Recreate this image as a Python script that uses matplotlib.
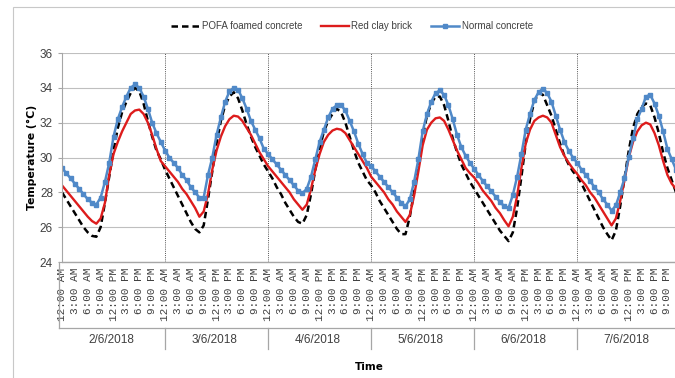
import matplotlib
matplotlib.use('Agg')
import matplotlib.pyplot as plt
from matplotlib.lines import Line2D
from matplotlib.patches import Rectangle

# ---------------- data (hourly readings, one row per day) ----------------
dates = ['2/6/2018', '3/6/2018', '4/6/2018', '5/6/2018', '6/6/2018', '7/6/2018']
hour_labels = ['12:00 AM', '3:00 AM', '6:00 AM', '9:00 AM',
               '12:00 PM', '3:00 PM', '6:00 PM', '9:00 PM']

pofa = [
    [28.0, 27.6, 27.2, 26.8, 26.4, 26.0, 25.7, 25.5, 25.45, 26.0, 27.4, 28.9,
     30.4, 31.7, 32.6, 33.2, 33.7, 34.0, 33.8, 33.1, 32.1, 31.2, 30.4, 29.9],
    [29.3, 28.8, 28.3, 27.8, 27.3, 26.8, 26.3, 25.9, 25.7, 26.1, 27.6, 29.2,
     30.8, 32.1, 33.0, 33.5, 33.75, 33.4, 32.7, 31.9, 31.2, 30.6, 30.1, 29.6],
    [29.2, 28.8, 28.3, 27.9, 27.4, 27.0, 26.6, 26.3, 26.2, 26.7, 27.9, 29.3,
     30.5, 31.5, 32.1, 32.5, 32.8, 32.6, 32.0, 31.2, 30.4, 29.7, 29.2, 28.7],
    [28.4, 28.0, 27.5, 27.1, 26.7, 26.3, 25.9, 25.6, 25.6, 26.6, 28.0, 29.6,
     31.2, 32.4, 33.1, 33.5, 33.5, 33.0, 32.1, 31.1, 30.3, 29.6, 29.1, 28.6],
    [28.2, 27.8, 27.4, 27.0, 26.6, 26.2, 25.8, 25.5, 25.2, 25.7, 27.1, 28.9,
     30.8, 32.2, 33.2, 33.7, 33.6, 33.0, 32.4, 31.6, 30.8, 30.1, 29.6, 29.2],
    [28.9, 28.5, 28.0, 27.5, 27.0, 26.5, 26.0, 25.6, 25.25, 25.8, 27.2, 28.8,
     30.4, 31.7, 32.5, 32.9, 33.1, 33.0, 32.3, 31.4, 30.3, 29.4, 28.7, 28.0],
]

brick = [
    [28.4, 28.1, 27.8, 27.5, 27.2, 26.9, 26.6, 26.35, 26.2, 26.5, 27.4, 29.0,
     30.2, 30.9, 31.5, 32.0, 32.5, 32.7, 32.75, 32.5, 32.0, 31.3, 30.5, 29.8],
    [29.5, 29.2, 28.9, 28.6, 28.2, 27.9, 27.5, 27.1, 26.6, 26.9, 27.9, 29.3,
     30.4, 31.2, 31.8, 32.2, 32.4, 32.35, 32.1, 31.7, 31.3, 30.8, 30.3, 29.9],
    [29.5, 29.2, 28.9, 28.6, 28.3, 28.0, 27.6, 27.3, 27.0, 27.3, 28.2, 29.3,
     30.2, 30.9, 31.3, 31.55, 31.65, 31.6, 31.4, 31.0, 30.6, 30.2, 29.8, 29.4],
    [28.9, 28.6, 28.3, 28.0, 27.6, 27.3, 26.9, 26.6, 26.3, 26.7, 27.8, 29.2,
     30.7, 31.6, 32.0, 32.25, 32.3, 32.1, 31.6, 31.0, 30.4, 29.9, 29.4, 29.1],
    [28.85, 28.5, 28.1, 27.8, 27.5, 27.1, 26.8, 26.4, 26.05, 26.6, 27.8, 29.4,
     30.8, 31.6, 32.1, 32.3, 32.4, 32.3, 32.0, 31.3, 30.6, 30.1, 29.7, 29.35],
    [29.05, 28.7, 28.4, 28.0, 27.7, 27.3, 26.9, 26.5, 26.1, 26.5, 27.5, 28.7,
     30.0, 30.9, 31.5, 31.85, 32.0, 31.9, 31.4, 30.7, 29.8, 29.0, 28.5, 28.2],
]

normal = [
    [29.4, 29.1, 28.8, 28.5, 28.2, 27.9, 27.6, 27.4, 27.3, 27.7, 28.6, 29.7,
     31.2, 32.2, 32.9, 33.5, 34.0, 34.2, 34.0, 33.5, 32.8, 32.0, 31.4, 30.9],
    [30.4, 30.0, 29.7, 29.4, 29.0, 28.7, 28.3, 28.0, 27.7, 27.7, 29.0, 30.0,
     31.3, 32.3, 33.2, 33.8, 34.0, 33.9, 33.4, 32.8, 32.1, 31.6, 31.1, 30.5],
    [30.2, 29.9, 29.6, 29.3, 29.0, 28.7, 28.4, 28.1, 27.95, 28.2, 28.9, 29.9,
     30.9, 31.6, 32.3, 32.8, 33.0, 33.0, 32.7, 32.1, 31.5, 30.8, 30.2, 29.7],
    [29.5, 29.2, 28.9, 28.6, 28.3, 28.0, 27.7, 27.4, 27.2, 27.6, 28.6, 29.9,
     31.5, 32.5, 33.2, 33.7, 33.85, 33.6, 33.0, 32.2, 31.3, 30.6, 30.1, 29.7],
    [29.35, 29.0, 28.65, 28.35, 28.05, 27.75, 27.45, 27.2, 27.1, 27.85, 28.9, 30.2,
     31.6, 32.5, 33.3, 33.75, 33.95, 33.7, 33.2, 32.4, 31.6, 30.9, 30.4, 30.0],
    [29.7, 29.3, 29.0, 28.65, 28.3, 28.0, 27.6, 27.3, 26.95, 27.25, 28.0, 28.8,
     30.05, 31.1, 32.2, 32.8, 33.5, 33.6, 33.1, 32.4, 31.5, 30.5, 29.9, 29.3],
]

# ---------------- styling ----------------
plt.rcParams['font.family'] = ['Liberation Sans', 'DejaVu Sans']
BLUE = '#5089C8'
RED = '#DD1C1C'
GRID = '#BFBFBF'
AXIS = '#A6A6A6'
TXT = '#404040'

pofa_all = [v for day in pofa for v in day]
brick_all = [v for day in brick for v in day]
normal_all = [v for day in normal for v in day]
x = list(range(len(normal_all)))
per_day = len(normal[0])

fig = plt.figure(figsize=(6.75, 3.78), dpi=100)

# outer chart border
fig.add_artist(Rectangle((13 / 675, -0.02), 1.2, 1 - 7 / 378 + 0.02,
                         transform=fig.transFigure, fill=False,
                         ec='#C8C8C8', lw=0.8))

ax = fig.add_axes([62 / 675, 1 - 262 / 378, 614 / 675, 209 / 378])

ax.plot(x, pofa_all, color='black', lw=1.8, ls=(0, (2.6, 1.6)),
        label='POFA foamed concrete')
ax.plot(x, brick_all, color=RED, lw=1.7, label='Red clay brick')
ax.plot(x, normal_all, color=BLUE, lw=1.8, marker='s', ms=3.0,
        label='Normal concrete')

ax.set_xlim(0, len(x) - 1)
ax.set_ylim(24, 36)
ax.set_yticks(range(24, 37, 2))
ax.yaxis.grid(True, color=GRID, lw=0.8)
ax.set_axisbelow(True)

# dotted day separators
for d in range(1, len(dates)):
    ax.axvline(d * per_day, color='#555555', lw=0.7, ls=(0, (1, 1.2)), zorder=1)

for s in ['top', 'right']:
    ax.spines[s].set_visible(False)
ax.spines['left'].set_color(AXIS)
ax.spines['bottom'].set_color(AXIS)
ax.spines['bottom'].set_linewidth(1.0)

ax.tick_params(axis='y', colors=AXIS, labelcolor=TXT, labelsize=8.5, length=3)
ax.set_xticks(x[::3])
ax.set_xticklabels(hour_labels * len(dates), rotation=90,
                   family='Liberation Mono', fontsize=7.9, color=TXT)
ax.tick_params(axis='x', length=0, pad=4)

ax.set_ylabel('Temperature (°C)', fontsize=7.8, fontweight='bold',
              family='DejaVu Sans', labelpad=2)

# multi-level category axis box
tr = ax.get_xaxis_transform()
box_y = -0.316
grp_y = -0.418
ax.plot([-0.7, len(x) + 5], [box_y, box_y], transform=tr, color=AXIS,
        lw=0.9, clip_on=False)
ax.plot([-0.7, -0.7], [0, box_y], transform=tr, color=AXIS, lw=0.9,
        clip_on=False)
for d in range(1, len(dates) + 1):
    ax.plot([d * per_day, d * per_day], [box_y, grp_y], transform=tr,
            color=AXIS, lw=0.9, clip_on=False)
for d, lab in enumerate(dates):
    ax.text(d * per_day + (per_day - 1) / 2, -0.373, lab, transform=tr,
            ha='center', va='center', fontsize=8.5, color=TXT)

ax.text(0.5, -0.503, 'Time', transform=ax.transAxes, ha='center',
        va='center', fontsize=7.5, fontweight='bold', family='DejaVu Sans',
        color='black')

handles = [
    Line2D([], [], color='black', lw=1.8, ls=(0, (2.6, 1.6))),
    Line2D([], [], color=RED, lw=1.7),
    Line2D([], [], color=BLUE, lw=1.8, marker='s', ms=3.0),
]
fig.legend(handles, ['POFA foamed concrete', 'Red clay brick', 'Normal concrete'],
           loc='center', bbox_to_anchor=(352 / 675, 1 - 26 / 378), ncol=3,
           frameon=False, fontsize=7, handlelength=2.9, columnspacing=1.9,
           handletextpad=0.25, labelcolor=TXT)

fig.savefig('out.png', dpi=100)
